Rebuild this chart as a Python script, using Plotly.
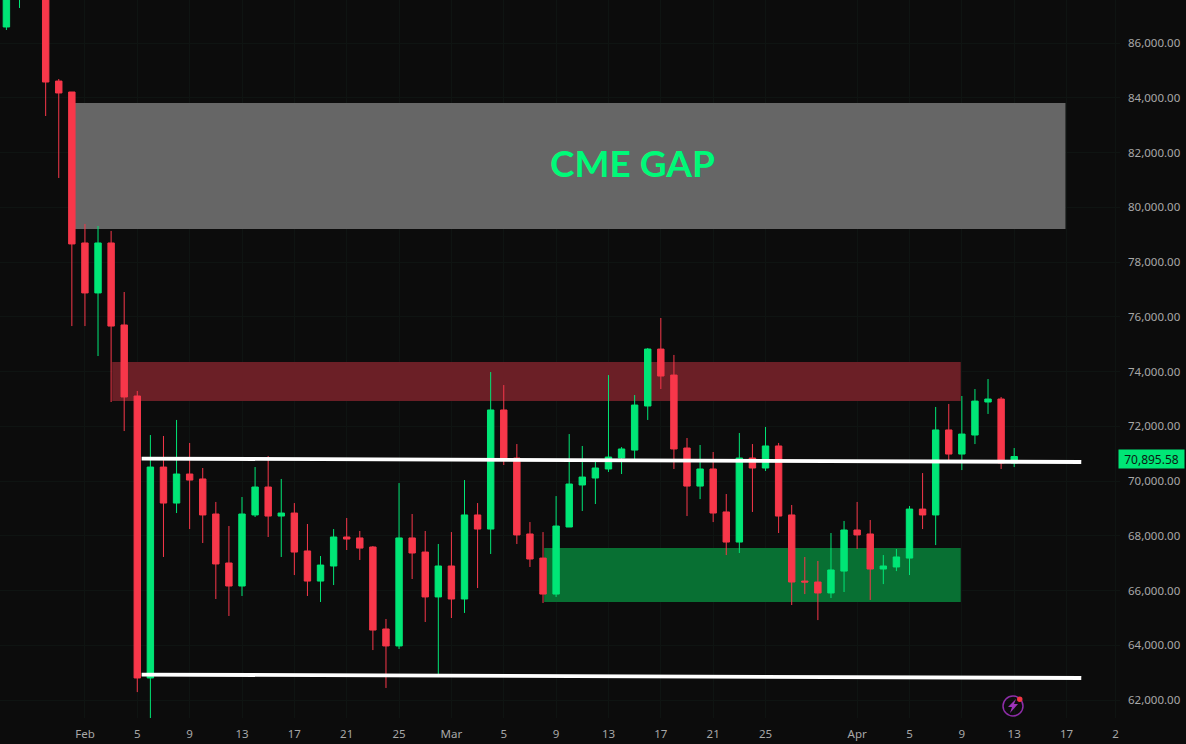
import plotly.graph_objects as go

# --- data -----------------------------------------------------------------
dates = ["2026-01-26","2026-01-27","2026-01-28","2026-01-29","2026-01-30","2026-01-31",
 "2026-02-01","2026-02-02","2026-02-03","2026-02-04","2026-02-05","2026-02-06","2026-02-07","2026-02-08","2026-02-09","2026-02-10",
 "2026-02-11","2026-02-12","2026-02-13","2026-02-14","2026-02-15","2026-02-16","2026-02-17","2026-02-18","2026-02-19","2026-02-20",
 "2026-02-21","2026-02-22","2026-02-23","2026-02-24","2026-02-25","2026-02-26","2026-02-27","2026-02-28",
 "2026-03-01","2026-03-02","2026-03-03","2026-03-04","2026-03-05","2026-03-06","2026-03-07","2026-03-08","2026-03-09","2026-03-10",
 "2026-03-11","2026-03-12","2026-03-13","2026-03-14","2026-03-15","2026-03-16","2026-03-17","2026-03-18","2026-03-19","2026-03-20",
 "2026-03-21","2026-03-22","2026-03-23","2026-03-24","2026-03-25","2026-03-26","2026-03-27","2026-03-28","2026-03-29","2026-03-30","2026-03-31",
 "2026-04-01","2026-04-02","2026-04-03","2026-04-04","2026-04-05","2026-04-06","2026-04-07","2026-04-08","2026-04-09","2026-04-10",
 "2026-04-11","2026-04-12","2026-04-13"]
opens = [86585,88300,89100,89200,84610,84210,
 78695,76870,78695,75700,73105,62805,70510,69195,70255,70075,
 68795,67005,66165,68760,69780,68720,68830,67445,66345,66895,
 67955,67920,67590,64595,63975,67920,67405,65765,
 66895,65690,68760,68245,72595,70840,68065,67185,65870,68320,
 69855,70110,70440,70840,71130,72740,74820,73870,71205,69815,
 70440,68870,67770,70840,70475,71280,68760,66345,66310,65910,66710,
 68210,68065,66785,66860,67185,68975,68760,71865,70985,71680,
 72885,72995,70660]
highs = [88200,89400,90500,89400,84685,84210,
 79390,79315,79135,76905,73290,71680,71645,72230,71390,70475,
 69235,68355,69415,70510,70915,70075,69195,68430,67260,68245,
 68650,68175,67625,64960,69925,68795,68175,67700,
 68135,70035,69195,73980,73505,71350,68500,68135,69450,71715,
 71280,70730,73870,71240,73140,74860,75955,74605,71570,71315,
 71060,69525,71755,71350,71975,71390,69125,67225,67080,68100,68540,
 69235,68575,67295,67515,69085,70290,72705,72815,73105,73360,
 73725,73070,71205]
lows = [86475,87280,88500,83333,81070,75660,
 75660,74565,72885,71825,62290,61340,67225,68830,68245,67735,
 65690,65070,65800,68685,67955,67225,66565,65800,65580,66200,
 67480,67115,63825,62440,63865,66420,64850,62915,
 64995,65180,66090,67335,70585,67700,66860,65545,65765,68320,
 68905,69160,70330,70255,70805,72230,73360,70440,68720,69340,
 68500,67295,67370,68870,70365,68100,65470,65870,64920,65725,65945,
 67515,65655,66235,66710,66565,68245,67660,70660,70400,71350,
 72450,70440,70510]
closes = [87900,89100,89200,84575,84175,78660,
 76870,78695,75660,73070,62805,70510,69195,70255,70035,68760,
 66970,66165,68795,69780,68720,68830,67405,66345,66930,67955,
 67880,67550,64555,63975,67920,67370,65765,66895,
 65690,68760,68245,72595,70805,68030,67150,65870,68355,69890,
 70145,70475,70875,71170,72775,74820,73835,71170,69815,70440,
 68830,67770,70840,70475,71280,68720,66310,66310,65910,66750,68210,
 68030,66785,66895,67225,68975,68760,71865,70985,71715,72920,
 72995,70660,70895.58]

y_ticks = [62000,64000,66000,68000,70000,72000,74000,76000,78000,80000,82000,84000,86000]
x_ticks = ["2026-02-01","2026-02-05","2026-02-09","2026-02-13","2026-02-17","2026-02-21","2026-02-25",
           "2026-03-01","2026-03-05","2026-03-09","2026-03-13","2026-03-17","2026-03-21","2026-03-25",
           "2026-04-01","2026-04-05","2026-04-09","2026-04-13","2026-04-17","2026-04-20T18:00"]
x_labels = ["Feb","5","9","13","17","21","25","Mar","5","9","13","17","21","25","Apr","5","9","13","17","2"]

last_price = 70895.58
gap_zone = {"x": ["2026-01-31", "2026-04-16T22:00"], "y": [79205, 83810]}
red_zone = {"x": ["2026-02-03T02:00", "2026-04-08T22:00"], "y": [72920, 74345]}
green_zone = {"x": ["2026-03-08T02:00", "2026-04-08T22:00"], "y": [65580, 67550]}
upper_line = {"x": ["2026-02-05T08:00", "2026-04-18T03:00"], "y": [70820, 70695]}
lower_line = {"x": ["2026-02-05T08:00", "2026-04-18T03:00"], "y": [62930, 62805]}

BG = "#0c0c0c"
UP = "#00E676"
DOWN = "#F7374A"
W, H = 1186, 744
ML, MR, MT, MB = 0, 66, 0, 26
PW, PH = W - ML - MR, H - MT - MB

def px(x): return x / PW
def py(y): return 1 - y / PH

fig = go.Figure()
for ln in (upper_line, lower_line):
    fig.add_trace(go.Scatter(x=ln["x"], y=ln["y"], mode="lines", hoverinfo="skip",
                             line=dict(color="#ffffff", width=3.8), showlegend=False))
fig.add_trace(go.Candlestick(
    x=dates, open=opens, high=highs, low=lows, close=closes, whiskerwidth=0,
    increasing=dict(line=dict(color=UP, width=1), fillcolor=UP),
    decreasing=dict(line=dict(color=DOWN, width=1), fillcolor=DOWN),
    showlegend=False))

shapes = []
for z, c in ((gap_zone, "#666666"), (red_zone, "#6B1F26"), (green_zone, "#087033")):
    shapes.append(dict(type="rect", xref="x", yref="y", x0=z["x"][0], x1=z["x"][1],
                       y0=z["y"][0], y1=z["y"][1], fillcolor=c, line_width=0, layer="between"))
# alert icon in the bottom right corner
cx, cy, r = 1013, 706, 10
shapes.append(dict(type="circle", xref="paper", yref="paper",
                   x0=px(cx - r), x1=px(cx + r), y0=py(cy + r), y1=py(cy - r),
                   line=dict(color="#8E2DA8", width=1.5), fillcolor="rgba(0,0,0,0)"))
bolt = [(1016, 699), (1008, 707), (1012, 707), (1010, 713), (1018, 704), (1014, 704)]
shapes.append(dict(type="path", xref="paper", yref="paper",
                   path="M " + " L ".join(f"{px(a):.5f},{py(b):.5f}" for a, b in bolt) + " Z",
                   fillcolor="#9C33B8", line_width=0))
shapes.append(dict(type="circle", xref="paper", yref="paper",
                   x0=px(1017), x1=px(1022.5), y0=py(702), y1=py(696.5),
                   fillcolor="#F23645", line_width=0))

annotations = [
    dict(text="<b>CME GAP</b>", xref="paper", yref="paper", x=px(632), y=py(162), xanchor="center",
         yanchor="middle", showarrow=False,
         font=dict(family="Lato, 'Noto Sans', sans-serif", size=37, color="#00FA78")),
    dict(text="70,895.58", xref="paper", yref="y", x=1, xshift=-2, yshift=-2, y=last_price, xanchor="left",
         yanchor="middle", showarrow=False, bgcolor=UP, borderpad=2, width=61, height=14, align="center",
         font=dict(family="'Noto Sans', sans-serif", size=12, color="#0c1a14")),
]

fig.update_layout(
    width=W, height=H, autosize=False,
    margin=dict(l=ML, r=MR, t=MT, b=MB),
    paper_bgcolor=BG, plot_bgcolor=BG,
    showlegend=False,
    shapes=shapes, annotations=annotations,
    xaxis=dict(type="date", range=["2026-01-25T12:15", "2026-04-21T02:00"],
               rangeslider=dict(visible=False),
               tickmode="array", tickvals=x_ticks, ticktext=x_labels, tickangle=0,
               showgrid=True, gridcolor="#0f1412", gridwidth=1, zeroline=False, showline=False,
               ticks="", ticklabelstandoff=7,
               tickfont=dict(family="'Noto Sans', sans-serif", size=11.5, color="#a8a8a8")),
    yaxis=dict(side="right", range=[61343, 87571], tickmode="array", tickvals=y_ticks,
               tickformat=",.2f", showgrid=True, gridcolor="#0f1412", gridwidth=1,
               zeroline=False, showline=False, ticks="", ticklabelstandoff=7,
               tickfont=dict(family="'Noto Sans', sans-serif", size=11.5, color="#a8a8a8")),
)
fig.write_html("out.html", config={"displayModeBar": False},
               post_script="document.body.style.margin='0';document.body.style.background='#0c0c0c';document.body.style.overflow='hidden';")
